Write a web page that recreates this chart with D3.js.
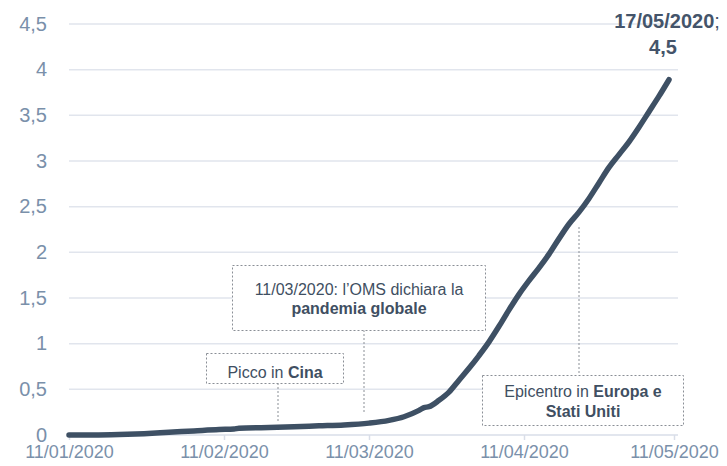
<!DOCTYPE html>
<html>
<head>
<meta charset="utf-8">
<script src="https://cdn.jsdelivr.net/npm/d3@7"></script>
<style>
  body { margin: 0; background: #ffffff; }
  svg { font-family: "Liberation Sans", Arial, sans-serif; }
</style>
</head>
<body>
<div id="chart"></div>
<script>
// Data (dates dd/mm/yyyy, values)
var dates = ["11/01/2020","16/01/2020","21/01/2020","26/01/2020","31/01/2020","05/02/2020",
  "10/02/2020","13/02/2020","14/02/2020","20/02/2020","25/02/2020","01/03/2020","06/03/2020",
  "11/03/2020","15/03/2020","18/03/2020","21/03/2020","22/03/2020","23/03/2020","25/03/2020",
  "27/03/2020","29/03/2020","31/03/2020","02/04/2020","04/04/2020","06/04/2020","08/04/2020",
  "10/04/2020","12/04/2020","14/04/2020","16/04/2020","18/04/2020","20/04/2020","22/04/2020",
  "24/04/2020","26/04/2020","28/04/2020","30/04/2020","02/05/2020","04/05/2020","06/05/2020",
  "08/05/2020","10/05/2020"];
var values = [0, 0, 0.005, 0.015, 0.03, 0.045,
  0.06, 0.065, 0.075, 0.082, 0.09, 0.1, 0.11,
  0.13, 0.16, 0.2, 0.27, 0.3, 0.31, 0.38,
  0.47, 0.6, 0.73, 0.87, 1.02, 1.19, 1.37,
  1.54, 1.69, 1.83, 1.98, 2.15, 2.31, 2.44,
  2.59, 2.76, 2.93, 3.07, 3.21, 3.37, 3.54,
  3.71, 3.89];
var xTickLabels = ["11/01/2020","11/02/2020","11/03/2020","11/04/2020","11/05/2020"];
var yTicks = [0, 0.5, 1, 1.5, 2, 2.5, 3, 3.5, 4, 4.5];

var parse = d3.timeParse("%d/%m/%Y");
var data = dates.map(function(d, i) { return {date: parse(d), value: values[i]}; });

var width = 727, height = 466;
var svg = d3.select("#chart").append("svg")
    .attr("width", width)
    .attr("height", height);

var x = d3.scaleTime()
    .domain([parse("11/01/2020"), parse("11/05/2020")])
    .range([69, 674]);
var y = d3.scaleLinear()
    .domain([0, 4.5])
    .range([435, 24]);

// gridlines
svg.append("g").selectAll("line")
    .data(yTicks.filter(function(t) { return t > 0; }))
    .enter().append("line")
    .attr("x1", 69).attr("x2", 678)
    .attr("y1", function(d) { return y(d); })
    .attr("y2", function(d) { return y(d); })
    .attr("stroke", "#e1e5ed")
    .attr("stroke-width", 1.5);

// y labels
svg.append("g").selectAll("text")
    .data(yTicks)
    .enter().append("text")
    .attr("x", 47)
    .attr("y", function(d) { return y(d) + 6.5; })
    .attr("text-anchor", "end")
    .attr("font-size", "20px")
    .attr("fill", "#7a90aa")
    .text(function(d) { return String(d).replace(".", ","); });

// x axis
var xAxis = d3.axisBottom(x)
    .tickValues(xTickLabels.map(parse))
    .tickSize(5)
    .tickFormat(function(d, i) { return xTickLabels[i]; });
var gx = svg.append("g")
    .attr("transform", "translate(0,435)")
    .call(xAxis);
gx.select(".domain").attr("stroke", "#d9dee8").attr("stroke-width", 1.5)
    .attr("d", "M69,0H678");
gx.selectAll(".tick line").attr("stroke", "#d9dee8").attr("stroke-width", 1.5);
gx.selectAll(".tick text")
    .attr("y", 10)
    .attr("font-size", "18px")
    .attr("font-family", "Liberation Sans, Arial, sans-serif")
    .attr("fill", "#7a90aa");

// annotation leaders
var dashed = "2,2";
function leader(x1, y1, x2, y2) {
    svg.append("line")
        .attr("x1", x1).attr("y1", y1).attr("x2", x2).attr("y2", y2)
        .attr("stroke", "#8a8f96").attr("stroke-width", 1)
        .attr("stroke-dasharray", dashed);
}
function box(x0, y0, w, h) {
    svg.append("rect")
        .attr("x", x0 + 0.5).attr("y", y0 + 0.5).attr("width", w).attr("height", h)
        .attr("fill", "#ffffff")
        .attr("stroke", "#8a8f96").attr("stroke-width", 1)
        .attr("stroke-dasharray", dashed);
}

leader(278, 383, 278, 423);
leader(364, 330, 364, 413);
leader(579, 227, 579, 375);

// the line
var line = d3.line()
    .x(function(d) { return x(d.date); })
    .y(function(d) { return y(d.value); })
    .curve(d3.curveMonotoneX);

svg.append("path")
    .datum(data)
    .attr("d", line)
    .attr("fill", "none")
    .attr("stroke", "#3e5064")
    .attr("stroke-width", 5.5)
    .attr("stroke-linecap", "round")
    .attr("stroke-linejoin", "round");

// boxes
box(206, 353, 137, 30);
box(232, 265, 253, 65);
box(482, 375, 201, 50);

var annColor = "#3f4f62";
function annText(cx, cy, parts) {
    var t = svg.append("text")
        .attr("x", cx).attr("y", cy)
        .attr("text-anchor", "middle")
        .attr("font-size", "16px")
        .attr("fill", annColor);
    parts.forEach(function(p) {
        t.append("tspan").attr("font-weight", p[1] ? "bold" : "normal").text(p[0]);
    });
}
annText(275, 378, [["Picco in ", false], ["Cina", true]]);
annText(359, 295, [["11/03/2020: l\u2019OMS dichiara la", false]]);
annText(359, 314, [["pandemia globale", true]]);
annText(583, 397, [["Epicentro in ", false], ["Europa e", true]]);
annText(583, 417, [["Stati Uniti", true]]);

// final value label
var lbl = svg.append("text")
    .attr("x", 667).attr("y", 28)
    .attr("text-anchor", "middle")
    .attr("font-size", "20px")
    .attr("font-weight", "bold")
    .attr("fill", "#44546a");
lbl.append("tspan").text("17/05/2020");
lbl.append("tspan").attr("font-weight", "normal").text(";");
svg.append("text")
    .attr("x", 663).attr("y", 54)
    .attr("text-anchor", "middle")
    .attr("font-size", "20px")
    .attr("font-weight", "bold")
    .attr("fill", "#44546a")
    .text("4,5");
</script>
</body>
</html>
